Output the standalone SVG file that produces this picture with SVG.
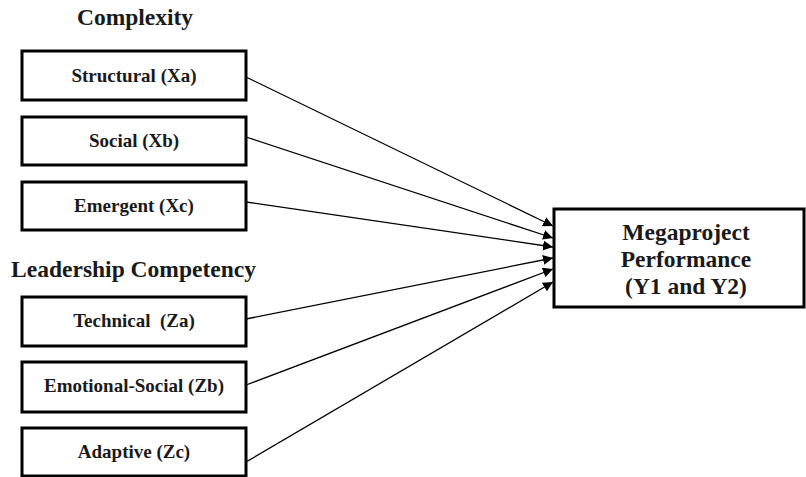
<svg xmlns="http://www.w3.org/2000/svg" width="806" height="477" viewBox="0 0 806 477">
<defs>
<marker id="ah" viewBox="0 0 10 10" refX="10" refY="5" markerWidth="10" markerHeight="10" markerUnits="userSpaceOnUse" orient="auto">
<path d="M0,0 L10,5 L0,10 z" fill="#000"/>
</marker>
<style>
.box{fill:#fff;stroke:#000;stroke-width:3}
.t{font-family:"Liberation Serif","Times New Roman",serif;font-weight:bold;fill:#1a1a1a;text-anchor:middle}
.s{font-size:19px}
.h{font-size:23.5px}
.b{font-size:23.5px}
.c{stroke:#000;stroke-width:1.3;fill:none;marker-end:url(#ah)}
</style>
</defs>
<rect width="806" height="477" fill="#fff"/>
<text class="t h" x="135" y="25">Complexity</text>
<text class="t h" x="133.5" y="277">Leadership Competency</text>
<g id="connectors">
<line class="c" x1="246" y1="77" x2="553" y2="226"/>
<line class="c" x1="246" y1="137" x2="553" y2="238"/>
<line class="c" x1="246" y1="202" x2="553" y2="247"/>
<line class="c" x1="246" y1="319" x2="553" y2="258"/>
<line class="c" x1="246" y1="385" x2="553" y2="269"/>
<line class="c" x1="246" y1="462" x2="553" y2="282"/>
</g>
<g id="xa"><rect class="box" x="22" y="51" width="224" height="49"/><text class="t s" x="134" y="82">Structural (Xa)</text></g>
<g id="xb"><rect class="box" x="22" y="117" width="224" height="48"/><text class="t s" x="134" y="147">Social (Xb)</text></g>
<g id="xc"><rect class="box" x="22" y="182" width="224" height="48"/><text class="t s" x="134" y="212">Emergent (Xc)</text></g>
<g id="za"><rect class="box" x="22" y="297" width="224" height="49"/><text class="t s" x="134" y="327" xml:space="preserve">Technical  (Za)</text></g>
<g id="zb"><rect class="box" x="22" y="362" width="224" height="50"/><text class="t s" x="134" y="392">Emotional-Social (Zb)</text></g>
<g id="zc"><rect class="box" x="22" y="428" width="224" height="48"/><text class="t s" x="134" y="458">Adaptive (Zc)</text></g>
<g id="y"><rect class="box" x="554" y="209" width="250" height="98"/>
<text class="t b" x="686" y="240">Megaproject</text>
<text class="t b" x="686" y="267">Performance</text>
<text class="t b" x="686" y="294">(Y1 and Y2)</text></g>
</svg>
